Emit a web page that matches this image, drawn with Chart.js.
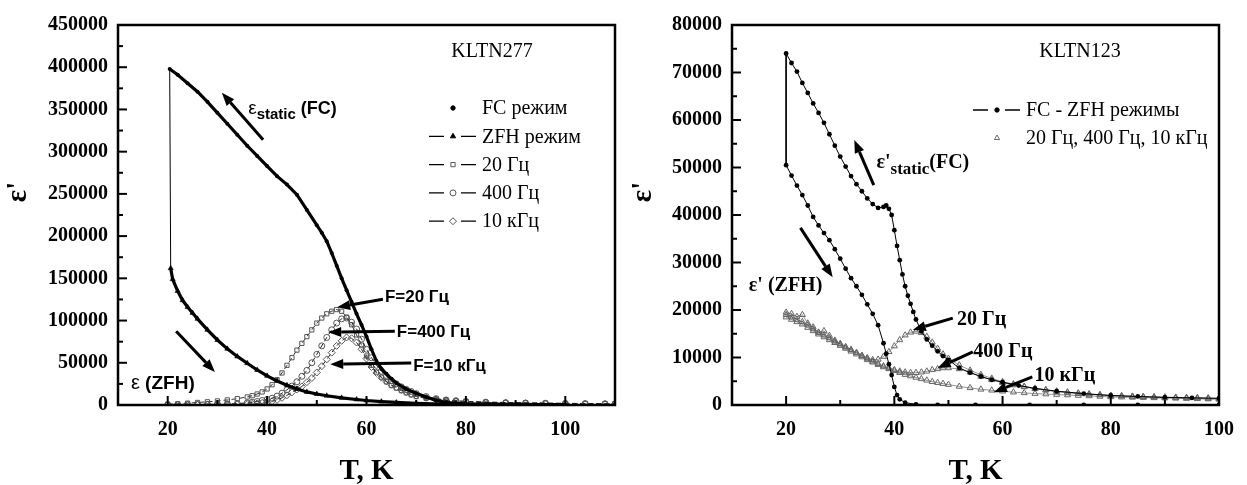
<!DOCTYPE html>
<html>
<head>
<meta charset="utf-8">
<script src="https://cdn.jsdelivr.net/npm/chart.js@4.4.1/dist/chart.umd.min.js"></script>
<style>
  html, body { margin: 0; padding: 0; background: #fff; }
  #wrap { position: relative; width: 1247px; height: 485px; }
  #c1 { position: absolute; left: 0; top: 0; }
  #c2 { position: absolute; left: 625px; top: 0; }
</style>
</head>
<body>
<div id="wrap">
  <canvas id="c1" width="625" height="485"></canvas>
  <canvas id="c2" width="622" height="485"></canvas>
</div>
<script>
// ---------- LEFT PANEL (KLTN277) ----------
const xTicksL = [20, 40, 60, 80, 100];

const fcT = [20.4,22,24,26,28,30,32,34,36,38,40,42,44,46,48,50,51,52,53,54,55,56,57,58,59,60,61,62,63,64,65,66,68,70,72,74,76,78,80,85,90,95,100];
const fcV = [398000,391000,381000,371000,359000,346000,333000,320000,307000,295000,283000,271000,261000,249000,231000,213000,204000,194000,180000,165000,150000,136000,122000,108000,95000,81000,66000,52000,43000,37000,31000,26000,19000,14000,9500,5500,3000,2000,1500,1000,800,600,500];

const zfhT = [20.6,21,22,23,24,25,26,28,30,32,34,36,38,40,42,44,46,48,50,52,55,58,60,63,66,70,75,80,90,100];
const zfhV = [162000,149000,135000,124000,116000,109000,102000,89000,77000,66500,57500,49500,41500,34500,28500,23500,19000,15500,13000,11000,8500,6500,5300,4000,3000,2000,1200,800,400,200];

// jump FC -> ZFH at the lowest temperature
const jumpLT = [20.4, 20.6];
const jumpLV = [398000, 162000];

const freqLT = [20,22,24,26,28,30,32,34,36,37,38,39,40,41,42,43,44,45,46,47,48,49,50,51,52,53,54,55,56,57,58,59,60,61,62,63,64,65,66,67,68,69,70,72,74,76,78,80,84,88,92,96,100,104,108,110];
const f20L  = [1000,1500,2200,3000,3800,4800,6000,7500,9500,11000,13000,15500,19000,24000,30000,38000,47000,56000,65000,73000,81000,89000,97000,103000,108000,111000,113000,111000,104000,95000,83000,71000,58000,47000,39000,33000,27500,23000,20000,17000,14500,12000,10000,8000,6500,5500,4800,4200,3500,3000,2600,2300,2000,1800,1600,1500];
const f400L = [300,350,450,550,700,900,1200,1700,2500,3200,4200,5300,6500,8000,10500,14000,18000,22500,27500,34000,41000,50000,60000,70000,80000,89000,97000,102000,103000,98000,90000,78000,66000,56000,47000,40000,34000,29000,25000,21500,18500,16000,13500,10000,7500,6000,5000,4200,3300,2700,2300,2000,1800,1600,1400,1300];
const f10kL = [200,250,300,350,400,500,600,800,1100,1400,1900,2500,3200,4500,6000,8500,11500,15000,18500,22000,27000,32000,38500,46000,54000,62000,70000,76000,80000,79000,74000,66000,55000,45000,38000,32500,28000,24000,21000,18000,15000,13000,11000,8500,6500,5300,4500,3800,3000,2500,2100,1800,1600,1400,1300,1200];

// ---------- RIGHT PANEL (KLTN123) ----------
const xTicksR = [20, 40, 60, 80, 100];

const rFcT = [20,21,22,23,24,25,26,27,28,29,30,31,32,33,34,35,36,37,38,38.5,39,39.5,40,40.5,41,41.5,42,42.5,43,43.5,44,45,46,47,48,49,50,52,54,56,58,60,63,66,70,75,80,85,90,95,100];
const rFcV = [74000,72000,70200,67800,65700,63500,61500,59400,57000,54600,52300,50200,48200,46500,45000,43500,42300,41500,41700,42000,41300,40000,36800,33500,30500,27500,25000,23000,21300,19600,18000,15500,13800,12500,11300,10300,9500,7800,6800,6000,5300,4800,4100,3500,2900,2400,2000,1800,1600,1500,1400];

const rZfhT = [20,21,22,23,24,25,26,27,28,29,30,31,32,33,34,35,36,37,38,38.5,39,39.5,40,40.5,41,42,44,48,55,65,75,85,100];
const rZfhV = [50500,48300,46200,44200,42000,39600,37800,36200,34700,32800,30800,28700,26700,25000,23200,21200,19200,16800,13000,10800,8600,6300,3800,2100,1200,500,150,0,0,0,0,0,0];

const jumpRT = [20, 20];
const jumpRV = [74000, 50500];

const freqRT = [20,21,22,23,24,25,26,27,28,29,30,31,32,33,34,35,36,37,38,39,40,41,42,43,44,45,46,47,48,49,50,52,54,56,58,60,62,64,66,68,70,72,74,76,78,80,82,84,86,88,90,92,94,96,98,100];
const f20R  = [19500,19200,18600,19000,17200,16400,15200,15600,14600,13600,12900,12200,11600,11000,10400,9900,9500,9600,10200,11200,12400,13700,14700,15300,15500,15200,14400,13200,11900,10700,9800,8400,7300,6400,5600,4900,4400,3900,3500,3200,2900,2700,2500,2300,2150,2000,1900,1800,1750,1700,1650,1600,1550,1500,1450,1400];
const f400R = [19000,18500,18000,17500,16800,16000,15300,14700,14100,13400,12800,12200,11600,11000,10400,9800,9200,8700,8200,7800,7400,7100,6900,6800,6800,6900,7100,7400,7600,7800,7800,7600,6900,6000,5300,4700,4200,3800,3400,3100,2800,2600,2400,2250,2100,2000,1900,1800,1700,1650,1600,1550,1500,1450,1400,1350];
const f10kR = [18500,18000,17500,17000,16300,15600,14900,14300,13700,13100,12500,11900,11300,10700,10100,9500,9000,8500,8000,7600,7200,6800,6400,6100,5800,5500,5200,4900,4700,4500,4300,3900,3600,3300,3100,2900,2700,2550,2400,2300,2200,2100,2000,1900,1800,1700,1650,1600,1550,1500,1450,1400,1350,1300,1250,1200];

// ---------- helpers ----------
function series(T, V) { return T.map((t, i) => ({ x: t, y: V[i] })); }

const SERIF = '"Liberation Serif", "Times New Roman", serif';
const SANS = '"Liberation Sans", Arial, sans-serif';
const tickFont = { family: SERIF, size: 20, weight: 'bold' };

function drawArrow(ctx, x1, y1, x2, y2) {
  const ang = Math.atan2(y2 - y1, x2 - x1);
  const hl = 13, hw = 5;
  const bx = x2 - hl * Math.cos(ang), by = y2 - hl * Math.sin(ang);
  ctx.lineWidth = 3;
  ctx.beginPath(); ctx.moveTo(x1, y1); ctx.lineTo(bx, by); ctx.stroke();
  ctx.beginPath();
  ctx.moveTo(x2, y2);
  ctx.lineTo(bx + hw * Math.sin(ang), by - hw * Math.cos(ang));
  ctx.lineTo(bx - hw * Math.sin(ang), by + hw * Math.cos(ang));
  ctx.closePath(); ctx.fill();
}

function drawSegs(ctx, x0, y0, segs) {
  let x = x0;
  ctx.textAlign = 'left'; ctx.textBaseline = 'alphabetic';
  segs.forEach(([t, font, dy]) => {
    ctx.font = font;
    ctx.fillText(t, x, y0 + dy);
    x += ctx.measureText(t).width;
  });
}

// frame, inward ticks, titles, annotations and legend
const decor = {
  id: 'decor',
  afterDatasetsDraw(chart, args, o) {
    const { ctx, chartArea: a, scales: { x, y } } = chart;
    ctx.save();
    ctx.strokeStyle = '#000'; ctx.fillStyle = '#000';
    ctx.lineWidth = 2.5;
    ctx.strokeRect(a.left, a.top, a.right - a.left, a.bottom - a.top);

    // inward ticks on bottom and left axes
    ctx.lineWidth = 2;
    const xt = x.ticks.map(t => t.value);
    const xMinor = xt.map(v => v + 10).concat([xt[0] - 10]).filter(v => v > x.min && v < x.max);
    xt.forEach(v => { const p = x.getPixelForValue(v); ctx.beginPath(); ctx.moveTo(p, a.bottom); ctx.lineTo(p, a.bottom - 9); ctx.stroke(); });
    xMinor.forEach(v => { const p = x.getPixelForValue(v); ctx.beginPath(); ctx.moveTo(p, a.bottom); ctx.lineTo(p, a.bottom - 5); ctx.stroke(); });
    const yt = y.ticks.map(t => t.value);
    yt.forEach((v, i) => {
      const p = y.getPixelForValue(v);
      ctx.beginPath(); ctx.moveTo(a.left, p); ctx.lineTo(a.left + 9, p); ctx.stroke();
      if (i < yt.length - 1) {
        const m = y.getPixelForValue((v + yt[i + 1]) / 2);
        ctx.beginPath(); ctx.moveTo(a.left, m); ctx.lineTo(a.left + 5, m); ctx.stroke();
      }
    });

    // axis titles
    ctx.font = 'bold 29px ' + SERIF;
    ctx.textAlign = 'center'; ctx.textBaseline = 'alphabetic';
    ctx.fillText('T, K', (a.left + a.right) / 2, 479);
    ctx.save();
    ctx.translate(o.yTitleX, 192);
    ctx.rotate(-Math.PI / 2);
    ctx.textBaseline = 'middle';
    ctx.fillText("ε'", 0, 0);
    ctx.restore();

    // sample name
    ctx.font = '20px ' + SERIF;
    ctx.textAlign = 'center'; ctx.textBaseline = 'middle';
    ctx.fillText(o.sample, a.left + o.sampleDX, 52);

    // arrows and annotation texts (data coordinates)
    o.arrows.forEach(([t1, v1, t2, v2]) => drawArrow(ctx,
      x.getPixelForValue(t1), y.getPixelForValue(v1), x.getPixelForValue(t2), y.getPixelForValue(v2)));
    o.texts.forEach(tx => drawSegs(ctx, x.getPixelForValue(tx.T), y.getPixelForValue(tx.v), tx.segs));

    // legend
    o.legend.forEach((it, i) => {
      const cy = a.top + o.legTop + i * o.legStep;
      const mx = a.left + o.legMarkX;
      ctx.strokeStyle = '#000'; ctx.lineWidth = 1.3;
      if (it.line) {
        ctx.beginPath();
        ctx.moveTo(mx - 24, cy); ctx.lineTo(mx - 9, cy);
        ctx.moveTo(mx + 8, cy); ctx.lineTo(mx + 23, cy);
        ctx.stroke();
      }
      ctx.strokeStyle = it.stroke; ctx.fillStyle = it.fill; ctx.lineWidth = 1;
      Chart.helpers.drawPoint(ctx, { pointStyle: it.style, radius: it.r, rotation: 0, borderWidth: 1 }, mx, cy);
      ctx.fillStyle = '#000';
      ctx.font = '20px ' + SERIF;
      ctx.textAlign = 'left'; ctx.textBaseline = 'middle';
      ctx.fillText(it.label, mx + 29, cy + 1);
    });
    ctx.restore();
  }
};

function baseScales(xMin, xMax, xTicks, yMax, yStep, yWidth) {
  return {
    x: {
      type: 'linear', min: xMin, max: xMax,
      afterBuildTicks: s => { s.ticks = xTicks.map(v => ({ value: v })); },
      afterFit: s => { s.height = 80; },
      grid: { display: false, drawTicks: false }, border: { display: false },
      ticks: { font: tickFont, color: '#000', padding: 13, maxRotation: 0, callback: v => String(v) }
    },
    y: {
      type: 'linear', min: 0, max: yMax,
      afterFit: s => { s.width = yWidth; },
      grid: { display: false, drawTicks: false }, border: { display: false },
      ticks: { stepSize: yStep, font: tickFont, color: '#000', padding: 10, callback: v => String(v) }
    }
  };
}

const common = {
  responsive: false, animation: false, events: [],
  elements: { line: { tension: 0 } }
};

// ---------- LEFT CHART ----------
new Chart(document.getElementById('c1'), {
  type: 'scatter',
  data: {
    datasets: [
      { data: series(fcT, fcV), showLine: true, borderColor: '#000', borderWidth: 3.2,
        pointStyle: 'circle', pointRadius: 2, pointBackgroundColor: '#000', pointBorderWidth: 0 },
      { data: series(jumpLT, jumpLV), showLine: true, borderColor: '#000', borderWidth: 1, pointRadius: 0 },
      { data: series(zfhT, zfhV), showLine: true, borderColor: '#000', borderWidth: 3.2,
        pointStyle: 'triangle', pointRadius: 3, pointBackgroundColor: '#000', pointBorderColor: '#000', pointBorderWidth: 0.5 },
      { data: series(freqLT, f400L), showLine: true, borderColor: '#222', borderWidth: 1, borderDash: [5, 3],
        pointStyle: 'circle', pointRadius: 3, pointBackgroundColor: 'rgba(0,0,0,0)', pointBorderColor: '#555', pointBorderWidth: 1 },
      { data: series(freqLT, f10kL), showLine: true, borderColor: '#222', borderWidth: 1, borderDash: [5, 3],
        pointStyle: 'rectRot', pointRadius: 3.5, pointBackgroundColor: 'rgba(0,0,0,0)', pointBorderColor: '#555', pointBorderWidth: 1 },
      { data: series(freqLT, f20L), showLine: true, borderColor: '#333', borderWidth: 1, borderDash: [5, 3],
        pointStyle: 'rect', pointRadius: 3, pointBackgroundColor: 'rgba(0,0,0,0)', pointBorderColor: '#555', pointBorderWidth: 1 }
    ]
  },
  options: Object.assign({}, common, {
    layout: { padding: { top: 25, right: 10, left: 0, bottom: 0 } },
    scales: baseScales(10, 110, xTicksL, 450000, 50000, 118),
    plugins: {
      legend: { display: false }, tooltip: { enabled: false },
      decor: {
        yTitleX: 19, sample: 'KLTN277', sampleDX: 374,
        legTop: 83, legStep: 28.3, legMarkX: 335,
        legend: [
          { label: 'FC режим', style: 'circle', r: 2.2, fill: '#000', stroke: '#000', line: false },
          { label: 'ZFH режим', style: 'triangle', r: 3, fill: '#000', stroke: '#000', line: true },
          { label: '20 Гц', style: 'rect', r: 3, fill: 'rgba(0,0,0,0)', stroke: '#555', line: true },
          { label: '400 Гц', style: 'circle', r: 3, fill: 'rgba(0,0,0,0)', stroke: '#555', line: true },
          { label: '10 кГц', style: 'rectRot', r: 3.5, fill: 'rgba(0,0,0,0)', stroke: '#555', line: true }
        ],
        arrows: [[39.2, 314000, 30.9, 369700], [21.7, 87400, 29.5, 39000], [63.3, 125200, 54.1, 115700],
                 [65.7, 87400, 52.3, 86200], [69.0, 49600, 52.7, 48400]],
        texts: [
          { T: 36.2, v: 345000, segs: [['ε', '19px ' + SANS, 0], ['static', 'bold 15px ' + SANS, 5], [' (FC)', 'bold 18px ' + SANS, 0]] },
          { T: 12.6, v: 19000, segs: [['ε', '20px ' + SANS, 0], [' (ZFH)', 'bold 19px ' + SANS, 0]] },
          { T: 63.7, v: 121600, segs: [['F=20 Гц', 'bold 17px ' + SANS, 0]] },
          { T: 66.1, v: 80300, segs: [['F=400 Гц', 'bold 17px ' + SANS, 0]] },
          { T: 69.4, v: 40200, segs: [['F=10 кГц', 'bold 17px ' + SANS, 0]] }
        ]
      }
    }
  }),
  plugins: [decor]
});

// ---------- RIGHT CHART ----------
new Chart(document.getElementById('c2'), {
  type: 'scatter',
  data: {
    datasets: [
      { data: series(rFcT, rFcV), showLine: true, borderColor: '#000', borderWidth: 1,
        pointStyle: 'circle', pointRadius: 2.4, pointBackgroundColor: '#000', pointBorderWidth: 0 },
      { data: series(rZfhT, rZfhV), showLine: true, borderColor: '#000', borderWidth: 1,
        pointStyle: 'circle', pointRadius: 2.4, pointBackgroundColor: '#000', pointBorderWidth: 0 },
      { data: series(jumpRT, jumpRV), showLine: true, borderColor: '#000', borderWidth: 1, pointRadius: 0 },
      { data: series(freqRT, f20R), showLine: true, borderColor: 'rgba(80,80,80,0.6)', borderWidth: 1,
        pointStyle: 'triangle', pointRadius: 3.5, pointBackgroundColor: 'rgba(0,0,0,0)', pointBorderColor: '#666', pointBorderWidth: 1 },
      { data: series(freqRT, f400R), showLine: true, borderColor: 'rgba(80,80,80,0.6)', borderWidth: 1,
        pointStyle: 'triangle', pointRadius: 3.5, pointBackgroundColor: 'rgba(0,0,0,0)', pointBorderColor: '#666', pointBorderWidth: 1 },
      { data: series(freqRT, f10kR), showLine: true, borderColor: 'rgba(80,80,80,0.6)', borderWidth: 1,
        pointStyle: 'triangle', pointRadius: 3.5, pointBackgroundColor: 'rgba(0,0,0,0)', pointBorderColor: '#666', pointBorderWidth: 1 }
    ]
  },
  options: Object.assign({}, common, {
    layout: { padding: { top: 25, right: 17, left: 0, bottom: 0 } },
    scales: baseScales(10, 100, xTicksR, 80000, 10000, 107),
    plugins: {
      legend: { display: false }, tooltip: { enabled: false },
      decor: {
        yTitleX: 19, sample: 'KLTN123', sampleDX: 348,
        legTop: 85, legStep: 28, legMarkX: 265,
        legend: [
          { label: 'FC - ZFH режимы', style: 'circle', r: 2.2, fill: '#000', stroke: '#000', line: true },
          { label: '20 Гц, 400 Гц, 10 кГц', style: 'triangle', r: 3, fill: 'rgba(0,0,0,0)', stroke: '#666', line: false }
        ],
        arrows: [[36.2, 46300, 32.6, 55800], [22.65, 37300, 28.6, 26900], [50.8, 18300, 43.4, 15800],
                 [54.5, 11200, 48.0, 7800], [65.5, 5900, 58.4, 2700]],
        texts: [
          { T: 36.7, v: 49900, segs: [["ε'", 'bold 20px ' + SERIF, 0], ['static', 'bold 17px ' + SERIF, 6], ['(FC)', 'bold 20px ' + SERIF, 0]] },
          { T: 13.1, v: 24000, segs: [["ε' (ZFH)", 'bold 20px ' + SERIF, 0]] },
          { T: 51.6, v: 16800, segs: [['20 Гц', 'bold 20px ' + SERIF, 0]] },
          { T: 54.6, v: 10100, segs: [['400 Гц', 'bold 20px ' + SERIF, 0]] },
          { T: 65.9, v: 5050, segs: [['10 кГц', 'bold 20px ' + SERIF, 0]] }
        ]
      }
    }
  }),
  plugins: [decor]
});
</script>
</body>
</html>
